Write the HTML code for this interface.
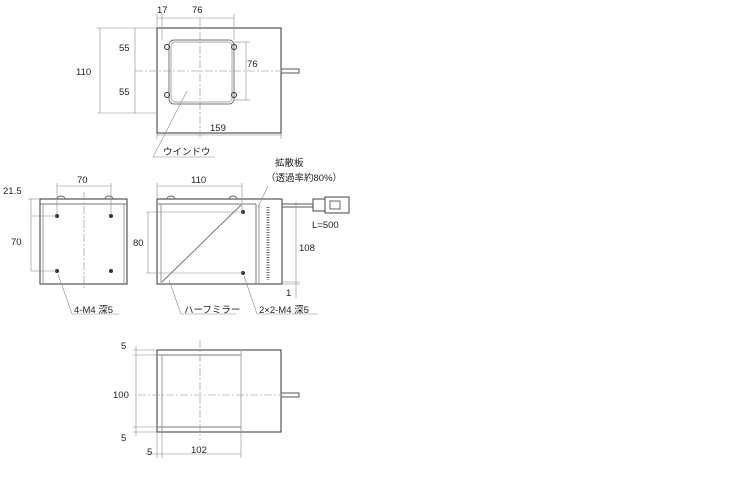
<!DOCTYPE html>
<html><head><meta charset="utf-8"><style>
html,body{margin:0;padding:0;background:#fff;width:730px;height:500px;overflow:hidden}
text{font-family:"Liberation Sans","Noto Sans CJK JP",sans-serif;font-size:9.5px;fill:#222}
</style></head><body>
<svg width="730" height="500" viewBox="0 0 730 500" xmlns="http://www.w3.org/2000/svg">
<g fill="none" stroke="#333" stroke-width="1">
<!-- TOP VIEW -->
<rect x="157" y="28" width="124" height="105"/>
<rect x="169" y="40" width="65" height="64" rx="5" stroke="#777"/>
<rect x="171" y="42" width="61" height="60" rx="4" stroke="#aaa"/>
<circle cx="167" cy="47" r="2.5"/><circle cx="234" cy="47" r="2.5"/>
<circle cx="167" cy="95" r="2.5"/><circle cx="234" cy="95" r="2.5"/>
<rect x="281" y="69" width="18" height="4" stroke="#555"/>
<g stroke="#888" stroke-width="0.6">
<line x1="135" y1="71" x2="283" y2="71" stroke-dasharray="8,2,2,2"/>
<line x1="200" y1="18" x2="200" y2="137" stroke-dasharray="8,2,2,2"/>
<line x1="100" y1="28" x2="100" y2="113"/><line x1="97" y1="28" x2="157" y2="28"/><line x1="97" y1="113" x2="157" y2="113"/>
<line x1="135" y1="28" x2="135" y2="113"/>
<line x1="157" y1="18" x2="234" y2="18"/><line x1="157" y1="14" x2="157" y2="28"/><line x1="162" y1="14" x2="162" y2="40"/><line x1="234" y1="14" x2="234" y2="40"/>
<line x1="246" y1="42" x2="246" y2="100"/><line x1="234" y1="42" x2="250" y2="42"/><line x1="234" y1="100" x2="250" y2="100"/>
<line x1="157" y1="135" x2="281" y2="135"/><line x1="157" y1="133" x2="157" y2="139"/><line x1="281" y1="133" x2="281" y2="139"/>
<line x1="187" y1="91" x2="153" y2="157"/><line x1="153" y1="157" x2="215" y2="157"/>
</g>
<!-- MIDDLE LEFT -->
<rect x="40" y="199" width="87" height="85"/>
<line x1="40" y1="204" x2="127" y2="204" stroke="#777"/>
<line x1="43" y1="204" x2="43" y2="284" stroke="#999"/><line x1="124" y1="204" x2="124" y2="284" stroke="#999"/>
<path d="M57 199 a4 3 0 0 1 8 0 M105 199 a4 3 0 0 1 8 0" stroke="#666"/>
<g fill="#333" stroke="none"><circle cx="57" cy="216" r="2"/><circle cx="111" cy="216" r="2"/><circle cx="57" cy="271" r="2"/><circle cx="111" cy="271" r="2"/></g>
<g stroke="#888" stroke-width="0.6">
<line x1="84" y1="192" x2="84" y2="290" stroke-dasharray="8,2,2,2"/>
<line x1="57" y1="186" x2="111" y2="186"/><line x1="57" y1="183" x2="57" y2="214"/><line x1="111" y1="183" x2="111" y2="214"/>
<line x1="31" y1="199" x2="31" y2="271"/><line x1="31" y1="216" x2="57" y2="216"/><line x1="31" y1="271" x2="57" y2="271"/><line x1="28" y1="199" x2="40" y2="199"/>
<line x1="58" y1="274" x2="72" y2="314"/><line x1="72" y1="314" x2="119" y2="314"/>
</g>
<!-- MIDDLE RIGHT -->
<rect x="157" y="199" width="125" height="85"/>
<line x1="157" y1="204" x2="256" y2="204" stroke="#777"/>
<line x1="161" y1="204" x2="161" y2="284" stroke="#999"/>
<line x1="256" y1="204" x2="256" y2="284" stroke="#777"/><line x1="259" y1="204" x2="259" y2="284" stroke="#999"/>
<line x1="162" y1="282" x2="241" y2="205" stroke="#777"/>
<path d="M167 199 a4 3 0 0 1 8 0 M229 199 a4 3 0 0 1 8 0" stroke="#666"/>
<path d="M268 207 V280" stroke="#666" stroke-width="3" stroke-dasharray="1,1.5"/>
<g fill="#333" stroke="none"><circle cx="243" cy="212" r="2"/><circle cx="243" cy="273" r="2"/></g>
<line x1="282" y1="204" x2="313" y2="204" stroke="#555"/><line x1="282" y1="207" x2="313" y2="207" stroke="#555"/>
<rect x="313" y="199" width="12" height="12" stroke="#444"/><rect x="325" y="197" width="24" height="16" stroke="#444"/><rect x="330" y="201" width="10" height="8" stroke="#666"/>
<g stroke="#888" stroke-width="0.6">
<line x1="157" y1="186" x2="242" y2="186"/><line x1="157" y1="183" x2="157" y2="199"/><line x1="242" y1="183" x2="242" y2="210"/>
<line x1="148" y1="212" x2="148" y2="273"/><line x1="146" y1="212" x2="243" y2="212"/><line x1="146" y1="273" x2="243" y2="273"/>
<line x1="296" y1="202" x2="296" y2="298"/><line x1="282" y1="284" x2="300" y2="284"/><line x1="282" y1="282" x2="300" y2="282"/>
<line x1="258" y1="207" x2="268" y2="186"/>
<line x1="169" y1="280" x2="181" y2="314"/><line x1="181" y1="314" x2="236" y2="314"/>
<line x1="244" y1="276" x2="257" y2="314"/><line x1="257" y1="314" x2="318" y2="314"/>
</g>
<!-- BOTTOM -->
<rect x="157" y="350" width="124" height="82"/>
<line x1="157" y1="355" x2="241" y2="355" stroke="#777"/><line x1="157" y1="427" x2="241" y2="427" stroke="#777"/>
<line x1="162" y1="355" x2="162" y2="432" stroke="#999"/><line x1="241" y1="350" x2="241" y2="432" stroke="#aaa"/>
<rect x="281" y="393" width="18" height="4" stroke="#555"/>
<g stroke="#888" stroke-width="0.6">
<line x1="138" y1="395" x2="283" y2="395" stroke-dasharray="8,2,2,2"/>
<line x1="200" y1="340" x2="200" y2="440" stroke-dasharray="8,2,2,2"/>
<line x1="136" y1="346" x2="136" y2="436"/><line x1="133" y1="350" x2="157" y2="350"/><line x1="133" y1="355" x2="162" y2="355"/><line x1="133" y1="427" x2="162" y2="427"/><line x1="133" y1="432" x2="157" y2="432"/>
<line x1="157" y1="432" x2="157" y2="458"/><line x1="162" y1="432" x2="162" y2="458"/><line x1="241" y1="432" x2="241" y2="458"/>
<line x1="145" y1="454" x2="241" y2="454"/>
</g>
</g>
<text x="157" y="13">17</text><text x="192" y="13">76</text>
<text x="76" y="75">110</text><text x="119" y="51">55</text><text x="119" y="95">55</text>
<text x="247" y="67">76</text><text x="210" y="131">159</text>
<text x="163" y="155">ウインドウ</text>
<text x="275" y="166">拡散板</text><text x="266" y="181">（透過率約80%）</text>
<text x="3" y="194">21.5</text><text x="77" y="183">70</text><text x="11" y="245">70</text>
<text x="191" y="183">110</text><text x="133" y="246">80</text>
<text x="312" y="228">L=500</text><text x="299" y="251">108</text><text x="286" y="296">1</text>
<text x="74" y="313">4-M4 深5</text><text x="184" y="313">ハーフミラー</text><text x="259" y="313">2×2-M4 深5</text>
<text x="121" y="349">5</text><text x="113" y="398">100</text><text x="121" y="441">5</text>
<text x="147" y="455">5</text><text x="191" y="453">102</text>
</svg>
</body></html>
